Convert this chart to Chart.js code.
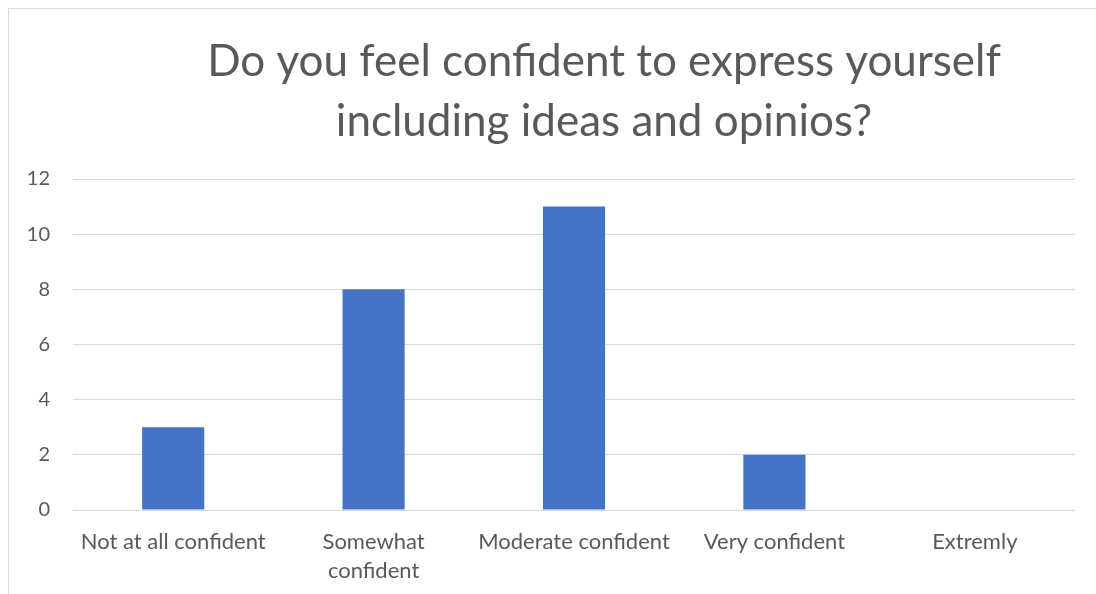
<!DOCTYPE html>
<html>
<head>
<meta charset="utf-8">
<script src="https://cdn.jsdelivr.net/npm/chart.js@4.4.1/dist/chart.umd.min.js"></script>
<style>
  html, body { margin: 0; padding: 0; background: #fff; overflow: hidden; }
  #wrap {
    position: absolute;
    left: 8px;
    top: 8px;
    width: 1190px;
    height: 600px;
    border: 1px solid #d9d9d9;
  }
</style>
</head>
<body>
<div id="wrap"><canvas id="myChart"></canvas></div>
<script>
// Survey answers
const categories = [
    "Not at all confident",
    ["Somewhat", "confident"],
    "Moderate confident",
    "Very confident",
    "Extremly"
];
const answers = [3, 8, 11, 2, 0];
const titleLines = ["Do you feel confident to express yourself", "including ideas and opinios?"];

const textColor = "#595959";
const gridColor = "#d9d9d9";
const fontName = "Lato";

const ctx = document.getElementById("myChart").getContext("2d");

new Chart(ctx, {
    type: "bar",
    data: {
        labels: categories,
        datasets: [{
            label: "Answers",
            data: answers,
            backgroundColor: "#4472C4",
            barPercentage: 0.31,
            categoryPercentage: 1
        }]
    },
    options: {
        responsive: true,
        maintainAspectRatio: false,
        animation: false,
        layout: { padding: 0 },
        plugins: {
            legend: { display: false },
            tooltip: { enabled: false },
            title: {
                display: true,
                text: titleLines,
                color: textColor,
                font: { family: fontName, size: 44, weight: "normal", lineHeight: 1.364 },
                padding: { top: 23, bottom: 27 }
            }
        },
        scales: {
            x: {
                grid: { display: false },
                border: { display: false },
                ticks: {
                    color: textColor,
                    font: { family: fontName, size: 22, lineHeight: 1.32 },
                    maxRotation: 0,
                    autoSkip: false,
                    padding: 9
                },
                afterFit: (scale) => { scale.height = 99; }
            },
            y: {
                min: 0,
                max: 12,
                grid: { color: gridColor, lineWidth: 1, drawTicks: false },
                border: { display: false },
                ticks: {
                    stepSize: 2,
                    color: textColor,
                    font: { family: fontName, size: 20 },
                    padding: 23
                },
                afterFit: (scale) => { scale.width = 64; }
            },
            // empty right-side space (the chart runs past the window edge)
            spacer: {
                type: "linear",
                position: "right",
                display: true,
                grid: { display: false },
                border: { display: false },
                ticks: { display: false },
                afterFit: (scale) => { scale.width = 124; }
            }
        }
    }
});
</script>
</body>
</html>
